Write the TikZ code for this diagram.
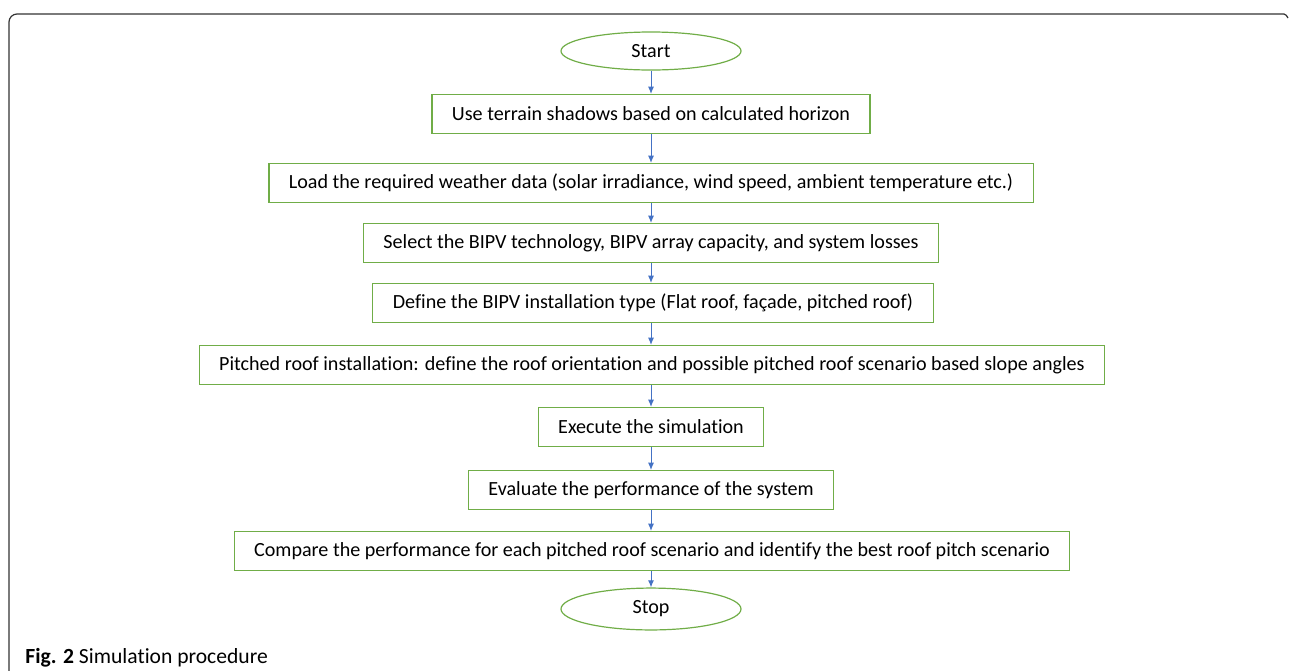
\documentclass[tikz,border=0pt]{standalone}
\usepackage{fontspec}
\setmainfont{Carlito}[Ligatures=CommonOff]
\usetikzlibrary{arrows.meta,shapes.geometric}
\definecolor{boxgreen}{HTML}{70AD47}
\definecolor{arrowblue}{HTML}{4472C4}
\definecolor{framegray}{HTML}{333333}

\begin{document}
\begin{tikzpicture}[x=0.5pt,y=-0.5pt,>=Latex,
    stepbox/.style={draw=boxgreen,line width=0.6pt,fill=white,
      minimum height=19.5pt,inner xsep=10pt,font=\fontsize{10.05}{12}\selectfont},
    terminal/.style={ellipse,draw=boxgreen,line width=0.6pt,
      minimum width=90pt,minimum height=19pt,font=\fontsize{10.05}{12}\selectfont},
    flow/.style={->,arrowblue,line width=0.5pt,>={Latex[length=3.6pt,width=3pt]}}]
  \useasboundingbox (0,0) rectangle (1290,670);
  % outer frame
  \draw[framegray,line width=0.6pt,rounded corners=4pt]
    (9,672) -- (9,14) -- (1284,14);
  \draw[framegray,line width=0.6pt] (1284,14) to[out=0,in=130] (1288,18);

  \node[terminal] (start) at (651,51) {Start};
  \node[stepbox] (shadows) at (651,114) {Use terrain shadows based on calculated horizon};
  \node[stepbox] (weather) at (651,183) {Load the required weather data (solar irradiance, wind speed, ambient temperature etc.)};
  \node[stepbox] (tech) at (651,243) {Select the BIPV technology, BIPV array capacity, and system losses};
  \node[stepbox] (install) at (653,303) {Define the BIPV installation type (Flat roof, façade, pitched roof)};
  \node[stepbox] (pitch) at (652,365) {Pitched roof installation: define the roof orientation and possible pitched roof scenario based slope angles};
  \node[stepbox] (execute) at (651,427) {Execute the simulation};
  \node[stepbox] (evaluate) at (651,490) {Evaluate the performance of the system};
  \node[stepbox] (compare) at (652,551) {Compare the performance for each pitched roof scenario and identify the best roof pitch scenario};
  \node[terminal] (stop) at (651,609) {Stop};

  \foreach \a/\b in {start/shadows,shadows/weather,weather/tech,tech/install,
      install/pitch,pitch/execute,execute/evaluate,evaluate/compare,compare/stop}
    \draw[flow] (\a.south -| start) -- (\b.north -| start);

  % caption
  \node[anchor=base west,inner sep=0pt,font=\fontsize{10.8}{13}\selectfont]
    (caption) at (25,663) {\textbf{Fig. 2} Simulation procedure};
\end{tikzpicture}
\end{document}
